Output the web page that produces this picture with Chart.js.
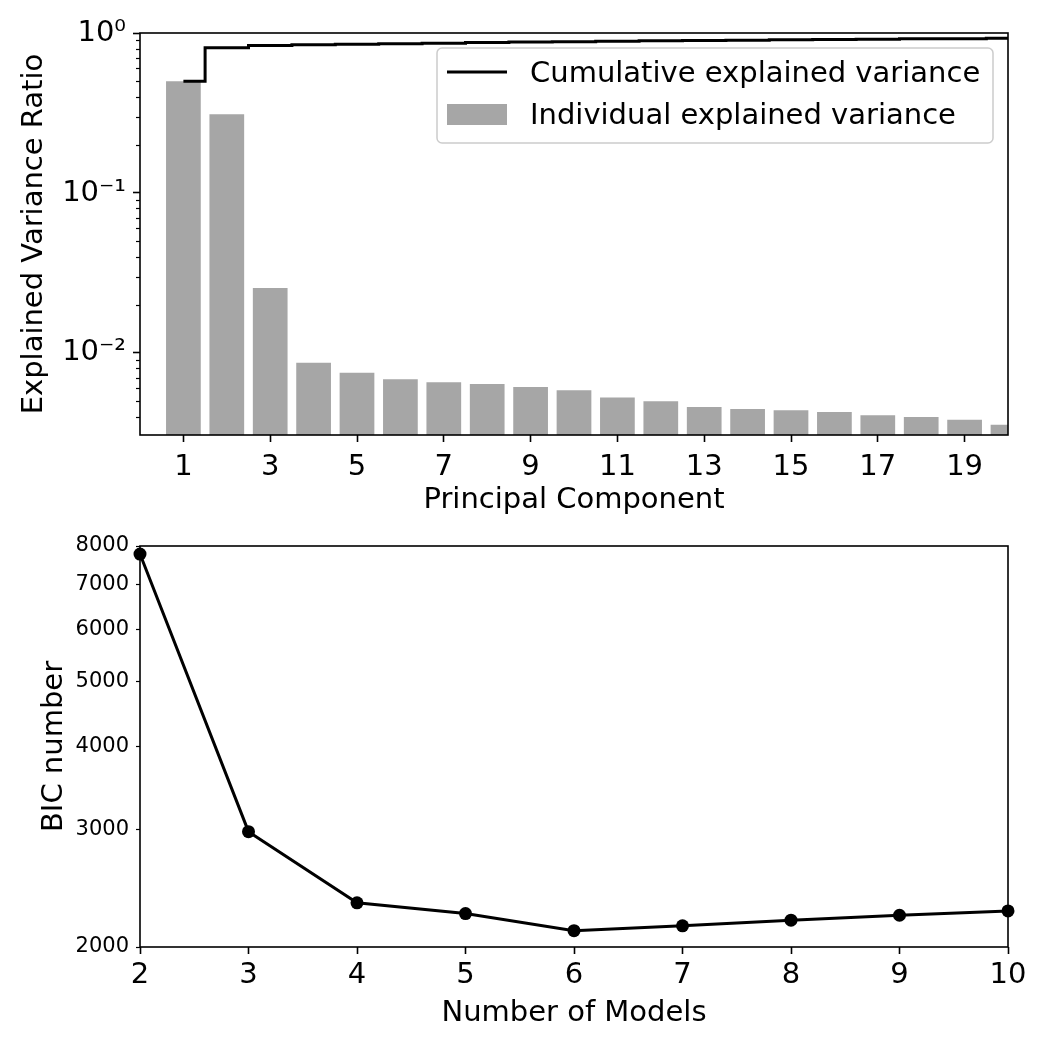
<!DOCTYPE html>
<html>
<head>
<meta charset="utf-8">
<script src="https://cdn.jsdelivr.net/npm/chart.js@4.4.0/dist/chart.umd.min.js"></script>
<style>
  body { margin: 0; background: #fff; }
  canvas { display: block; }
</style>
</head>
<body>
<canvas id="pcaChart" width="1050" height="525"></canvas>
<canvas id="bicChart" width="1050" height="525"></canvas>
<script>
// PCA explained variance, one value per principal component
const components = [1, 2, 3, 4, 5, 6, 7, 8, 9, 10, 11, 12, 13, 14, 15, 16, 17, 18, 19, 20]
const individualVariance = [0.499, 0.310, 0.0255, 0.0087, 0.00753, 0.00684, 0.00656, 0.0064, 0.00613, 0.00585,
  0.00526, 0.00499, 0.0046, 0.00447, 0.00438, 0.00428, 0.00408, 0.00398, 0.00383, 0.00356]
const cumulativeVariance = [0.499, 0.809, 0.835, 0.843, 0.851, 0.858, 0.864, 0.871, 0.877, 0.883,
  0.888, 0.893, 0.897, 0.902, 0.906, 0.910, 0.915, 0.919, 0.922, 0.926]
const componentTicks = [1, 3, 5, 7, 9, 11, 13, 15, 17, 19]
const varianceTicks = [0.01, 0.1, 1]
const varianceTickLabels = ['10⁻²', '10⁻¹', '10⁰']
const varianceMinorTicks = [0.004, 0.005, 0.006, 0.007, 0.008, 0.009,
  0.02, 0.03, 0.04, 0.05, 0.06, 0.07, 0.08, 0.09,
  0.2, 0.3, 0.4, 0.5, 0.6, 0.7, 0.8, 0.9]

// BIC for each number of mixture models
const modelCounts = [2, 3, 4, 5, 6, 7, 8, 9, 10]
const bicValues = [7780, 2980, 2330, 2245, 2116, 2152, 2194, 2232, 2266]
const modelTicks = [2, 3, 4, 5, 6, 7, 8, 9, 10]
const bicTicks = [2000, 3000, 4000, 5000, 6000, 7000, 8000]

const FONT = "'DejaVu Sans', sans-serif"
const font = size => ({ family: FONT, size: size, lineHeight: 1.2 })

// Draw the full box round the plot (matplotlib spines)
const spinesPlugin = {
  id: 'spines',
  afterDatasetsDraw(chart) {
    const { ctx, chartArea: a } = chart
    ctx.save()
    ctx.strokeStyle = '#000'
    ctx.lineWidth = 1.6
    ctx.strokeRect(a.left, a.top, a.right - a.left, a.bottom - a.top)
    ctx.restore()
  }
}

// Short minor ticks on the log axis of the top chart
const minorTicksPlugin = {
  id: 'minorTicks',
  afterDraw(chart) {
    if (chart.canvas.id !== 'pcaChart') return
    const { ctx, chartArea: a } = chart
    const y = chart.scales.y
    ctx.save()
    ctx.strokeStyle = '#000'
    ctx.lineWidth = 1.2
    varianceMinorTicks.forEach(v => {
      const py = Math.round(y.getPixelForValue(v)) + 0.5
      ctx.beginPath()
      ctx.moveTo(a.left, py)
      ctx.lineTo(a.left - 4, py)
      ctx.stroke()
    })
    ctx.restore()
  }
}

// Legend box in the upper right of the top chart
const legendPlugin = {
  id: 'boxLegend',
  afterDraw(chart) {
    if (chart.canvas.id !== 'pcaChart') return
    const { ctx, chartArea: a } = chart
    const right = a.right - 15, top = a.top + 15
    const w = 556, h = 95
    const left = right - w
    ctx.save()
    ctx.fillStyle = 'rgba(255,255,255,0.8)'
    ctx.strokeStyle = '#cccccc'
    ctx.lineWidth = 1.5
    ctx.beginPath()
    ctx.roundRect(left, top, w, h, 5)
    ctx.fill()
    ctx.stroke()

    ctx.strokeStyle = '#000'
    ctx.lineWidth = 3
    ctx.beginPath()
    ctx.moveTo(left + 10, top + 24)
    ctx.lineTo(left + 70, top + 24)
    ctx.stroke()
    ctx.fillStyle = '#a6a6a6'
    ctx.fillRect(left + 10, top + 56, 60, 21)

    ctx.fillStyle = '#000'
    ctx.font = '29px ' + FONT
    ctx.textBaseline = 'middle'
    ctx.fillText('Cumulative explained variance', left + 93, top + 26)
    ctx.fillText('Individual explained variance', left + 93, top + 68)
    ctx.restore()
  }
}

new Chart('pcaChart', {
  type: 'bar',
  data: {
    datasets: [{
      type: 'line',
      label: 'Cumulative explained variance',
      data: components.map((c, i) => ({ x: c, y: cumulativeVariance[i] })),
      borderColor: '#000',
      borderWidth: 3,
      pointRadius: 0,
      stepped: 'middle',
      order: 0
    }, {
      label: 'Individual explained variance',
      data: components.map((c, i) => ({ x: c, y: individualVariance[i] })),
      backgroundColor: '#a6a6a6',
      barPercentage: 0.8,
      categoryPercentage: 1,
      order: 1
    }]
  },
  options: {
    responsive: false,
    animation: false,
    layout: { padding: { left: 0, top: 33, right: 42, bottom: 0 } },
    plugins: { legend: { display: false }, tooltip: { enabled: false } },
    scales: {
      x: {
        type: 'linear',
        min: 0,
        max: 20,
        offset: false,
        afterBuildTicks: scale => { scale.ticks = componentTicks.map(v => ({ value: v })) },
        afterFit: scale => { scale.height = 90 },
        grid: { drawOnChartArea: false, offset: false, tickLength: 7, tickWidth: 1.6, tickColor: '#000' },
        border: { display: false },
        ticks: { autoSkip: false, maxRotation: 0, padding: 8, color: '#000', font: font(29), callback: v => String(v) },
        title: { display: true, text: 'Principal Component', color: '#000', font: font(29), padding: { top: 0, bottom: 7 } }
      },
      y: {
        type: 'logarithmic',
        min: 0.00307,
        max: 1,
        bounds: 'data',
        afterBuildTicks: scale => { scale.ticks = varianceTicks.map(v => ({ value: v })) },
        afterFit: scale => { scale.width = 140 },
        grid: { drawOnChartArea: false, tickLength: 7, tickWidth: 1.6, tickColor: '#000' },
        border: { display: false },
        ticks: { autoSkip: false, padding: 7, color: '#000', font: font(29),
          callback: v => varianceTickLabels[varianceTicks.indexOf(v)] },
        title: { display: true, text: 'Explained Variance Ratio', color: '#000', font: font(29), padding: { top: 17, bottom: 0 } }
      }
    }
  },
  plugins: [spinesPlugin, minorTicksPlugin, legendPlugin]
})

new Chart('bicChart', {
  type: 'line',
  data: {
    datasets: [{
      data: modelCounts.map((m, i) => ({ x: m, y: bicValues[i] })),
      borderColor: '#000',
      borderWidth: 3,
      pointRadius: 6.5,
      pointBackgroundColor: '#000',
      pointBorderWidth: 0,
      clip: false
    }]
  },
  options: {
    responsive: false,
    animation: false,
    layout: { padding: { left: 0, top: 21, right: 42, bottom: 0 } },
    plugins: { legend: { display: false }, tooltip: { enabled: false } },
    scales: {
      x: {
        type: 'linear',
        min: 2,
        max: 10,
        afterBuildTicks: scale => { scale.ticks = modelTicks.map(v => ({ value: v })) },
        afterFit: scale => { scale.height = 103 },
        grid: { drawOnChartArea: false, tickLength: 7, tickWidth: 1.6, tickColor: '#000' },
        border: { display: false },
        ticks: { autoSkip: false, maxRotation: 0, padding: 4, color: '#000', font: font(29), callback: v => String(v) },
        title: { display: true, text: 'Number of Models', color: '#000', font: font(29), padding: { top: 0, bottom: 19 } }
      },
      y: {
        type: 'logarithmic',
        min: 2000,
        max: 8000,
        bounds: 'data',
        afterBuildTicks: scale => { scale.ticks = bicTicks.map(v => ({ value: v })) },
        afterFit: scale => { scale.width = 140 },
        grid: { drawOnChartArea: false, tickLength: 4, tickWidth: 1.2, tickColor: '#000' },
        border: { display: false },
        ticks: { autoSkip: false, padding: 7, color: '#000', font: font(21), callback: v => String(v) },
        title: { display: true, text: 'BIC number', color: '#000', font: font(29), padding: { top: 37, bottom: 0 } }
      }
    }
  },
  plugins: [spinesPlugin]
})
</script>
</body>
</html>
